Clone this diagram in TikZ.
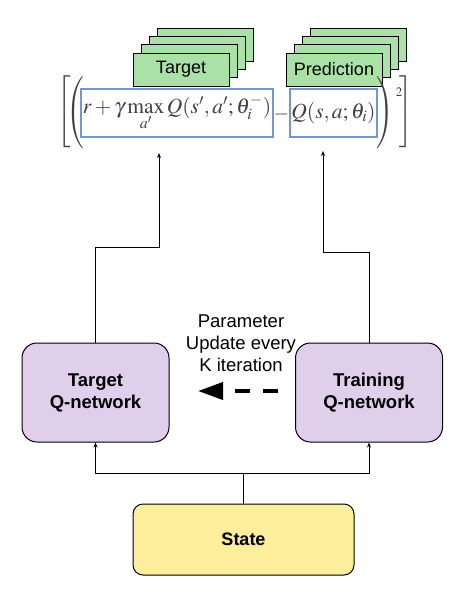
\documentclass[tikz,border=0pt]{standalone}
\usepackage{mathptmx}
\usepackage[no-math]{fontspec}
\setsansfont{Liberation Sans}
\usetikzlibrary{arrows.meta}
\definecolor{netpurple}{HTML}{DFCFEA}
\definecolor{stateyellow}{HTML}{FCEE9B}
\definecolor{cardgreen}{HTML}{A9E1A6}
\definecolor{exprblue}{HTML}{7396D6}
\definecolor{exprgray}{HTML}{404040}
\tikzset{
  netbox/.style={draw, line width=1pt, rounded corners=15pt, fill=netpurple, minimum width=147pt, minimum height=99pt, align=center, font=\sffamily\bfseries\fontsize{18.5}{22}\selectfont},
  card/.style={draw, line width=1pt, fill=cardgreen, minimum width=96pt, minimum height=33pt, inner sep=0pt, font=\sffamily\fontsize{18}{20}\selectfont},
  expr/.style={draw=exprblue, line width=1.2pt, inner sep=0pt, minimum height=48pt, text=exprgray, font=\fontsize{21.5}{24}\selectfont},
  delim/.style={inner sep=0pt, text=exprgray, font=\fontsize{20}{24}\selectfont},
  feed/.style={line width=1pt, -{Stealth[length=5pt,width=4pt]}},
}
\begin{document}
\begin{tikzpicture}[x=1pt, y=-1pt]
  \useasboundingbox (0,0) rectangle (476,605);

  % stacked cards
  \foreach \k in {3,2,1} {
    \node[card] at (181+8.2*\k, 69.5-8.2*\k) {};
    \node[card] at (334+8.2*\k, 69.5-8.2*\k) {};
  }
  \node[card] (tgtcard) at (181,69.5) {Target};
  \node[card] (predcard) at (334,69.5) {Prediction};

  % loss
  \node[delim] (lbrk) at (65,112) {$\left[\vrule height 32pt depth 32pt width 0pt\right.$};
  \node[delim] (lpar) at (76,113) {$\left(\vrule height 30pt depth 30pt width 0pt\right.$};
  \node[expr, minimum width=192pt] (tgtQ) at (177,113) {$r+\gamma\max\limits_{a'}Q(s',a';\theta_i^-)$};
  \node[delim] (minus) at (281.5,114) {$-$};
  \node[expr, minimum width=87pt] (predQ) at (333.5,113) {$Q(s,a;\theta_i)$};
  \node[delim] (rpar) at (385,113) {$\left.\vrule height 30pt depth 30pt width 0pt\right)$};
  \node[delim, font=\fontsize{13}{15}\selectfont] (sq) at (399,92) {$2$};
  \node[delim] (rbrk) at (406,112) {$\left.\vrule height 32pt depth 32pt width 0pt\right]$};

  % networks
  \node[netbox] (tgtnet) at (95.5,392.5) {Target\\Q-network};
  \node[netbox] (trnnet) at (369,392.5) {Training\\Q-network};
  \node[draw, line width=1pt, rounded corners=10pt, fill=stateyellow, minimum width=221pt, minimum height=71pt, font=\sffamily\bfseries\fontsize{18}{22}\selectfont] (state) at (243.5,539.5) {State};
  \node[align=center, font=\sffamily\fontsize{18.5}{22}\selectfont] (updnote) at (241,343) {Parameter\\Update every\\K iteration};

  \coordinate (split) at (243.5,473);
  \draw[line width=1pt] (state.north) -- (split);
  \draw[feed] (split) -| (tgtnet.south);
  \draw[feed] (split) -| (trnnet.south);

  \coordinate (tgtbend) at (159,247);
  \coordinate (tgtin) at (159,153);
  \draw[feed] (tgtnet.north) |- (tgtbend) -- (tgtin);
  \coordinate (trnbend) at (323,252);
  \coordinate (trnin) at (323,151);
  \draw[feed] (trnnet.north) |- (trnbend) -- (trnin);

  \coordinate (updfrom) at (278,391);
  \coordinate (updto) at (198,391);
  \draw[line width=4pt, dash pattern=on 15pt off 13pt, -{Triangle[length=25pt,width=17pt]}] (updfrom) -- (updto);
\end{tikzpicture}
\end{document}
